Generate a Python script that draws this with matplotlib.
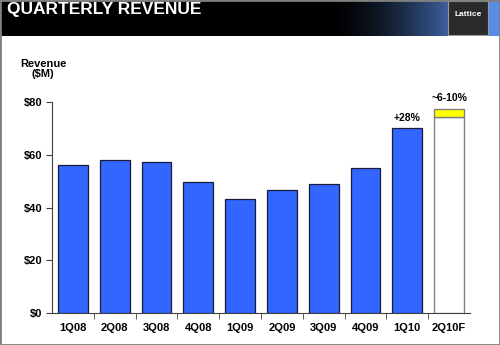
import numpy as np
import matplotlib
matplotlib.use("Agg")
import matplotlib.pyplot as plt
from matplotlib.patches import Rectangle

plt.rcParams['font.family'] = ['Liberation Sans', 'DejaVu Sans']

# data ($M)
quarters = ["1Q08", "2Q08", "3Q08", "4Q08", "1Q09", "2Q09", "3Q09", "4Q09", "1Q10", "2Q10F"]
revenue = [56.3, 58.0, 57.3, 49.6, 43.3, 46.6, 48.9, 54.9, 70.1]
guide_low = 74.2
guide_high = 77.2
yticks = [0, 20, 40, 60, 80]
ytick_labels = ["$0", "$20", "$40", "$60", "$80"]
growth_label = "+28%"
guide_label = "~6-10%"

W, H = 500, 345
fig = plt.figure(figsize=(W / 100, H / 100), dpi=100)
fig.patch.set_facecolor("white")

# header band with blue glow on the right
hdr = fig.add_axes([0, 1 - 36 / H, 1, 36 / H])
xs = np.linspace(0, 1, 500)
glow = np.clip((xs - 0.66) / 0.30, 0, 1) ** 1.6
img = np.zeros((1, 500, 3))
img[0, :, 0] = 0.35 * glow
img[0, :, 1] = 0.55 * glow
img[0, :, 2] = 0.90 * glow
hdr.imshow(img, aspect="auto", extent=[0, 1, 0, 1])
hdr.set_xlim(0, 1)
hdr.set_ylim(0, 1)
hdr.axis("off")
hdr.text(7 / W, 0.74, "QUARTERLY REVENUE", color="white", fontsize=12.5,
         fontweight="bold", va="center", ha="left")
hdr.add_patch(Rectangle((448 / W, 0.04), 40 / W, 0.92, facecolor="#2a2a2a",
                        edgecolor="#999999", lw=0.8))
hdr.text(468 / W, 0.6, "Lattice", color="white", fontsize=6, fontweight="bold",
         ha="center", va="center")

# chart
ax = fig.add_axes([52 / W, 1 - 313 / H, 418 / W, 211 / H])
x = np.arange(len(quarters))
ax.bar(x[:len(revenue)], revenue, width=0.71, color="#3366FF",
       edgecolor="#1a1a3a", linewidth=0.9, zorder=3)
ax.bar(x[-1], guide_low, width=0.71, color="white", edgecolor="#808080",
       linewidth=1.0, zorder=3)
ax.bar(x[-1], guide_high - guide_low, bottom=guide_low, width=0.71,
       color="#FFFF00", edgecolor="#808080", linewidth=1.0, zorder=3)

ax.text(x[len(revenue) - 1], revenue[-1] + 2.0, growth_label, ha="center",
        va="bottom", fontsize=7.5, fontweight="bold")
ax.text(x[-1], guide_high + 2.3, guide_label, ha="center", va="bottom",
        fontsize=7.5, fontweight="bold")

ax.set_xlim(-0.5, len(quarters) - 0.5)
ax.set_ylim(0, 80)
ax.set_yticks(yticks)
ax.set_yticklabels(ytick_labels, fontsize=8, fontweight="bold")
ax.set_xticks(x)
ax.set_xticklabels(quarters, fontsize=8, fontweight="bold")
ax.tick_params(axis="x", length=0, pad=7)
ax.set_xticks(np.arange(0.5, len(quarters) - 0.5, 1), minor=True)
ax.tick_params(axis="x", which="minor", length=4, color="#404040")
ax.tick_params(axis="y", length=4, width=0.8, pad=3, color="#404040")
for side in ["top", "right"]:
    ax.spines[side].set_visible(False)
ax.spines["left"].set_color("#404040")
ax.spines["bottom"].set_color("#404040")
ax.spines["left"].set_linewidth(0.8)
ax.spines["bottom"].set_linewidth(0.8)

fig.text(43 / W, 1 - 69 / H, "Revenue\n($M)", ha="center", va="center",
         fontsize=8, fontweight="bold", linespacing=1.1)

# outer frame
fig.add_artist(Rectangle((0, 0), 1, 1, transform=fig.transFigure, fill=False,
                         edgecolor="#808080", lw=2))

fig.savefig("out.png", dpi=100)
